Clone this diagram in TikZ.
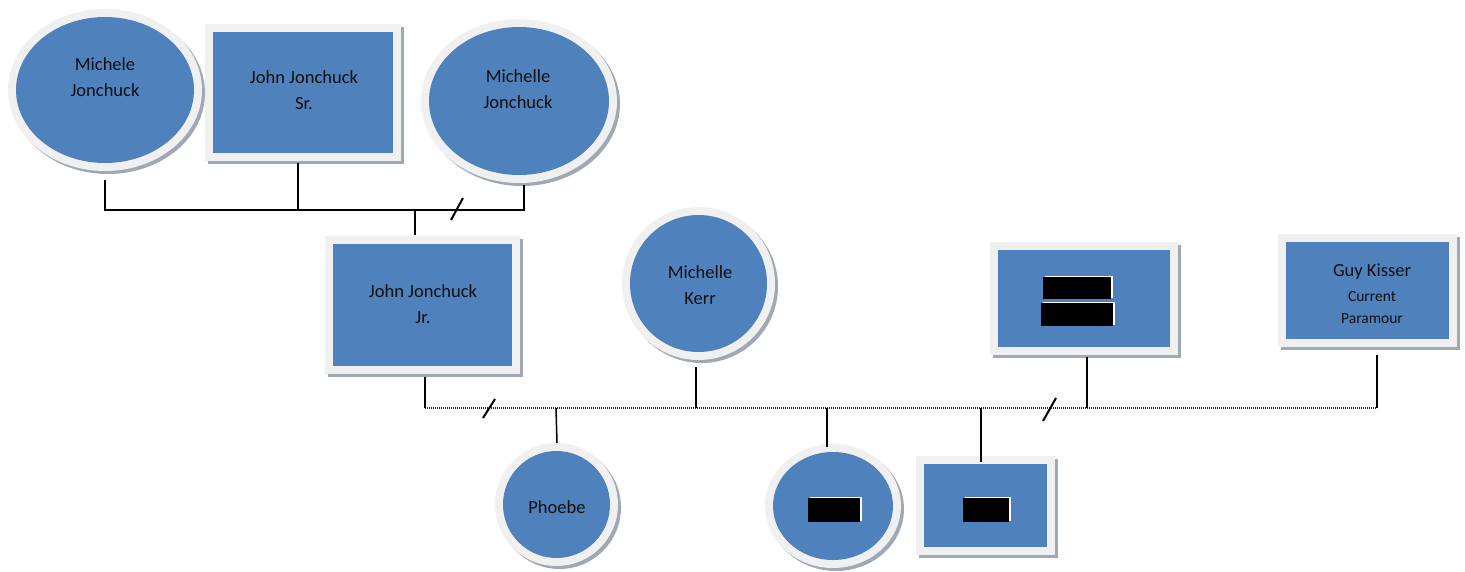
\documentclass[tikz,border=0pt]{standalone}
\usepackage{fontspec}
\setmainfont{Carlito}
\usetikzlibrary{shapes.geometric,calc}
\definecolor{pblue}{HTML}{4F81BD}
\definecolor{pring}{HTML}{F0F0F0}
\definecolor{pshadow}{HTML}{A0A8B6}
\definecolor{ptext}{HTML}{101010}
\tikzset{
  pshape/.style={fill=pblue, draw=none, inner sep=0pt, outer sep=0pt,
    preaction={draw=pshadow, line width=16pt, transform canvas={shift={(3pt,-3pt)}}},
    preaction={draw=pring, line width=16pt}},
  pcirc/.style 2 args={pshape, ellipse, minimum width=#1, minimum height=#2},
  pbox/.style 2 args={pshape, rectangle, minimum width=#1, minimum height=#2},
  ptxt/.style={text=ptext, align=center, inner sep=0pt, font=\fontsize{18.5}{26}\selectfont},
  conn/.style={draw=black, line width=2pt},
  thinconn/.style={draw=black, line width=1.5pt},
  dotline/.style={draw=black!85, line width=2pt, dash pattern=on 1.2pt off 0.8pt},
  redact/.style={fill=black},
}
\begin{document}
\begin{tikzpicture}[x=1pt,y=-1pt]
\useasboundingbox (0,0) rectangle (1465,571);
% persons
\node[pcirc={178pt}{146pt}] (mj) at (105,90) {};
\node[ptxt] (mjt) at (105,77) {Michele\\Jonchuck};
\node[pbox={180pt}{121pt}] (js) at (303,92.5) {};
\node[ptxt] (jst) at (304,90) {John Jonchuck\\Sr.};
\node[pcirc={180pt}{148pt}] (mjo) at (519,101) {};
\node[ptxt] (mjot) at (518,89) {Michelle\\Jonchuck};
\node[pbox={179pt}{122pt}] (jj) at (422.5,305) {};
\node[ptxt] (jjt) at (423,304) {John Jonchuck\\Jr.};
\node[pcirc={137pt}{137pt}] (mk) at (698.5,283.5) {};
\node[ptxt] (mkt) at (700,285) {Michelle\\Kerr};
\node[pbox={172pt}{97pt}] (rb1) at (1084,298.5) {};
\node[pbox={163pt}{97pt}] (gk) at (1367.5,290.5) {};
\node[ptxt] (gkt1) at (1372,272) {Guy Kisser};
\node[ptxt, font=\fontsize{15.5}{22}\selectfont] (gkt2) at (1372,297) {Current};
\node[ptxt, font=\fontsize{15.5}{22}\selectfont] (gkt3) at (1372,319) {Paramour};
\node[pcirc={107pt}{107pt}] (ph) at (556.5,504.5) {};
\node[ptxt] (pht) at (557,507) {Phoebe};
\node[pcirc={120pt}{108pt}] (rc) at (833,506) {};
\node[pbox={123pt}{83pt}] (rb2) at (985.5,505.5) {};
% redactions
\fill[white] (1044.5,275.5) rectangle (1112.5,297.5);
\fill[redact] (1043,277) rectangle (1111,299);
\fill[white] (1042.5,301.5) rectangle (1114.5,324.5);
\fill[redact] (1041,303) rectangle (1113,326);
\fill[white] (809.5,496.5) rectangle (861.5,520.5);
\fill[redact] (808,498) rectangle (860,522);
\fill[white] (964.5,496.5) rectangle (1010.5,520.5);
\fill[redact] (963,498) rectangle (1009,522);
% top connectors
\coordinate (tl) at (105,210);
\coordinate (tr) at (524,210);
\coordinate (tc) at (415,210);
\draw[conn] ([yshift=-17pt]mj.south) -- (tl) -- (tr) -- ([xshift=5pt,yshift=-10pt]mjo.south);
\draw[conn] ([xshift=-5pt,yshift=-10pt]js.south) -- ++(0,47);
\draw[conn] (tc) -- ([xshift=-7.5pt,yshift=9pt]jj.north);
\draw[conn] (451,220) -- (463,198);
% bottom connectors
\coordinate (bl) at (425,408);
\coordinate (br) at (1377,408);
\draw[dotline] (bl) -- (br);
\draw[conn] ([xshift=2.5pt,yshift=-11pt]jj.south) -- (bl);
\draw[conn] ([xshift=-2.5pt,yshift=-15pt]mk.south) -- ++(0,41);
\draw[conn] ([xshift=3pt,yshift=-10pt]rb1.south) -- ++(0,51);
\draw[conn] ([xshift=9.5pt,yshift=-16pt]gk.south) -- (br);
\draw[thinconn] (556,408) -- ([xshift=0.5pt,yshift=8pt]ph.north);
\draw[conn] (827,408) -- ([xshift=-6pt,yshift=5pt]rc.north);
\draw[conn] (981,408) -- ([xshift=-4.5pt,yshift=2pt]rb2.north);
\draw[conn] (483,418) -- (495,399);
\draw[conn] (1043,421) -- (1056,398);
\end{tikzpicture}
\end{document}
